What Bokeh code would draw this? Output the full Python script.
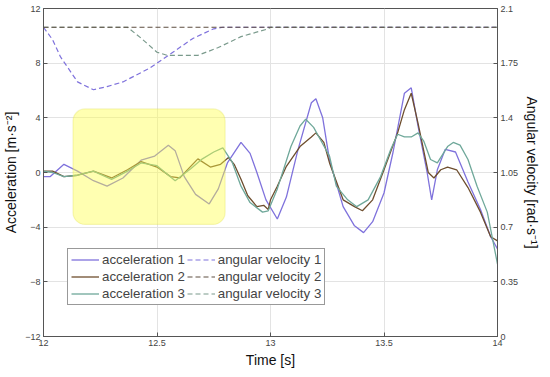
from bokeh.plotting import figure
from bokeh.models import Range1d, LinearAxis, Legend, LegendItem, BoxAnnotation, FixedTicker
from bokeh.embed import file_html
from bokeh.resources import INLINE

# ---- data ----
t_a1 = [12.0, 12.03, 12.09, 12.15, 12.22, 12.28, 12.35, 12.43, 12.49, 12.55, 12.58, 12.62, 12.67, 12.73, 12.77,
        12.81, 12.87, 12.91, 12.94, 12.98, 13.03, 13.07, 13.12, 13.18, 13.2, 13.23, 13.26, 13.32, 13.37, 13.41,
        13.45, 13.5, 13.54, 13.59, 13.62, 13.65, 13.69, 13.71, 13.735, 13.77, 13.815, 13.87, 13.925, 13.97, 14.0]
a1 = [-0.3, -0.3, 0.6, 0.1, -0.6, -1.0, -0.4, 0.9, 1.2, 2.0, 1.6, -0.3, -1.6, -2.3, -1.2,
      0.7, 2.2, 1.4, 0.0, -2.0, -3.4, -1.8, 1.6, 5.1, 5.4, 4.0, 0.9, -2.5, -3.9, -4.4,
      -3.6, -1.5, 1.5, 5.8, 6.2, 3.4, 0.0, -2.0, 0.2, 1.7, 1.5, -0.7, -2.7, -4.7, -5.6]

t_a2 = [12.0, 12.04, 12.09, 12.15, 12.22, 12.3, 12.37, 12.43, 12.5, 12.56, 12.6, 12.64, 12.68, 12.735, 12.78,
        12.815, 12.84, 12.87, 12.9, 12.94, 12.97, 12.99, 13.0, 13.03, 13.07, 13.13, 13.18, 13.2, 13.235, 13.26,
        13.32, 13.37, 13.405, 13.45, 13.5, 13.56, 13.59, 13.62, 13.65, 13.695, 13.72, 13.75, 13.78, 13.82, 13.87,
        13.925, 13.97, 14.0]
a2 = [0.1, 0.1, -0.3, -0.2, 0.1, -0.4, 0.2, 0.8, 0.4, -0.3, -0.4, 0.3, 1.0, 0.4, 0.6,
      1.1, 0.6, -0.5, -1.7, -2.5, -2.4, -2.7, -2.0, -1.0, 0.45, 1.9, 2.6, 2.9, 2.2, 0.7,
      -2.0, -2.5, -2.8, -2.0, 0.2, 2.9, 4.6, 5.8, 3.6, 0.0, -0.4, 0.2, 0.4, 0.2, -1.1,
      -2.9, -4.7, -5.0]

t_a3 = [12.0, 12.04, 12.09, 12.15, 12.22, 12.3, 12.37, 12.43, 12.5, 12.58, 12.65, 12.7, 12.75, 12.79, 12.83,
        12.87, 12.91, 12.965, 12.99, 13.03, 13.09, 13.13, 13.155, 13.19, 13.22, 13.26, 13.29, 13.34, 13.38, 13.43,
        13.485, 13.53, 13.56, 13.59, 13.62, 13.65, 13.675, 13.705, 13.735, 13.78, 13.805, 13.835, 13.87, 13.91,
        13.955, 14.0]
a3 = [0.1, 0.0, -0.3, -0.2, 0.1, -0.5, 0.1, 0.7, 0.5, -0.6, 0.3, 1.0, 1.5, 1.8, 0.8,
      -1.0, -2.2, -2.9, -2.8, -1.2, 1.9, 3.4, 3.9, 3.3, 2.4, 1.2, -1.0, -2.0, -2.5, -2.0,
      -0.3, 1.7, 2.8, 2.6, 2.6, 2.9, 2.3, 0.95, 0.7, 1.9, 2.2, 2.0, 0.95, -1.0,
      -2.9, -6.7]

t_w1 = [12.0, 12.04, 12.075, 12.15, 12.22, 12.28, 12.35, 12.47, 12.57, 12.66, 12.75, 12.79, 14.0]
w1 = [1.98, 1.90, 1.79, 1.63, 1.58, 1.60, 1.63, 1.72, 1.82, 1.91, 1.97, 1.98, 1.98]
t_w2 = [12.0, 14.0]
w2 = [1.98, 1.98]
t_w3 = [12.0, 12.37, 12.43, 12.5, 12.545, 12.68, 12.77, 12.87, 12.99, 13.0, 14.0]
w3 = [1.98, 1.98, 1.91, 1.82, 1.80, 1.80, 1.85, 1.92, 1.97, 1.98, 1.98]

labels_acc = ["acceleration 1", "acceleration 2", "acceleration 3"]
labels_vel = ["angular velocity 1", "angular velocity 2", "angular velocity 3"]
x_ticks = [12, 12.5, 13, 13.5, 14]
y_ticks = [-12, -8, -4, 0, 4, 8, 12]
y2_ticks = [0, 0.35, 0.7, 1.05, 1.4, 1.75, 2.1]

C1 = "#7f72dc"
C2 = "#6e4e2e"
C3 = "#6fa89a"
FONT = "Liberation Sans"

p = figure(frame_width=454, frame_height=328, output_backend="svg", toolbar_location=None,
           x_range=Range1d(12, 14), y_range=Range1d(-12, 12),
           min_border_left=35, min_border_right=50, min_border_top=8, min_border_bottom=30)
p.extra_y_ranges = {"vel": Range1d(0, 2.1)}

p.outline_line_color = "#555555"
p.xgrid.grid_line_color = "#e3e3e3"
p.ygrid.grid_line_color = "#e3e3e3"
p.xaxis.ticker = FixedTicker(ticks=x_ticks)
p.yaxis.ticker = FixedTicker(ticks=y_ticks)
p.xaxis.axis_label = "Time [s]"
p.yaxis.axis_label = "Acceleration [m·s⁻²]"

ax2 = LinearAxis(y_range_name="vel", ticker=FixedTicker(ticks=y2_ticks),
                 axis_label="Angular velocity [rad·s⁻¹]")
p.add_layout(ax2, "right")

for ax in [p.xaxis[0], p.yaxis[0], ax2]:
    ax.axis_line_color = "#555555"
    ax.major_tick_line_color = "#555555"
    ax.major_tick_in = 4
    ax.major_tick_out = 0
    ax.minor_tick_line_color = None
    ax.major_label_text_font = FONT
    ax.major_label_text_font_size = "9px"
    ax.major_label_text_color = "#444444"
    ax.major_label_standoff = 3
    ax.axis_label_text_font = FONT
    ax.axis_label_text_font_size = "14px"
    ax.axis_label_text_font_style = "normal"
    ax.axis_label_text_color = "#111111"
    ax.axis_label_standoff = 3

r1 = p.line(t_a1, a1, line_color=C1, line_width=1.3)
r2 = p.line(t_a2, a2, line_color=C2, line_width=1.3)
r3 = p.line(t_a3, a3, line_color=C3, line_width=1.3)
v1 = p.line(t_w1, w1, line_color=C1, line_width=1.2, line_dash="5 3", y_range_name="vel")
v3 = p.line(t_w3, w3, line_color="#7a9a8c", line_width=1.2, line_dash="5 3", y_range_name="vel")
v2 = p.line(t_w2, w2, line_color="#5e4e40", line_width=1.2, line_dash="5 3", y_range_name="vel")

box = BoxAnnotation(left=12.13, right=12.8, bottom=-3.8, top=4.65,
                    fill_color="#ffff44", fill_alpha=0.42,
                    line_color="#dede50", line_width=1.2, border_radius=12)
p.add_layout(box)

legend = Legend(items=[LegendItem(label=labels_acc[0], renderers=[r1]),
                       LegendItem(label=labels_acc[1], renderers=[r2]),
                       LegendItem(label=labels_acc[2], renderers=[r3]),
                       LegendItem(label=labels_vel[0], renderers=[v1]),
                       LegendItem(label=labels_vel[1], renderers=[v2]),
                       LegendItem(label=labels_vel[2], renderers=[v3])],
                nrows=3, location=(24, 31))
legend.label_text_font = FONT
legend.label_text_font_size = "13.3px"
legend.label_height = 15
legend.glyph_height = 15
legend.glyph_width = 28
legend.spacing = 2
legend.padding = 3
legend.margin = 0
legend.label_standoff = 3
legend.border_line_color = "#333333"
legend.background_fill_alpha = 1
p.add_layout(legend)

open("out.html", "w").write(file_html(p, INLINE))
